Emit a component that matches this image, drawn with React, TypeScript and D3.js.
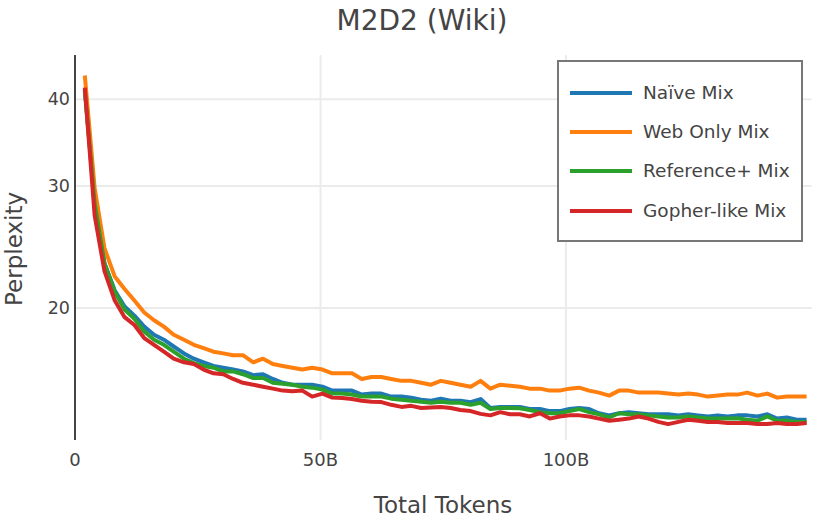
import React from "react";
import * as d3 from "d3";

const tokensB = [
  2.0, 4.0, 6.0, 8.1, 10.1, 12.1, 14.1, 16.1, 18.1, 20.1,
  22.2, 24.2, 26.2, 28.2, 30.2, 32.2, 34.2, 36.3, 38.3, 40.3,
  42.3, 44.3, 46.3, 48.3, 50.4, 52.4, 54.4, 56.4, 58.4, 60.4,
  62.4, 64.4, 66.5, 68.5, 70.5, 72.5, 74.5, 76.5, 78.5, 80.6,
  82.6, 84.6, 86.6, 88.6, 90.6, 92.6, 94.7, 96.7, 98.7, 100.7,
  102.7, 104.7, 106.7, 108.8, 110.8, 112.8, 114.8, 116.8, 118.8, 120.8,
  122.9, 124.9, 126.9, 128.9, 130.9, 132.9, 134.9, 136.9, 139.0, 141.0,
  143.0, 145.0, 147.0, 149.0,
];

const naiveMix = [
  41.4, 28.6, 23.2, 21.2, 20.1, 19.5, 18.8, 18.3, 18.0, 17.6,
  17.2, 16.9, 16.7, 16.5, 16.4, 16.3, 16.2, 16.0, 16.05, 15.8,
  15.6, 15.5, 15.5, 15.5, 15.4, 15.2, 15.2, 15.2, 15.0, 15.05,
  15.05, 14.9, 14.9, 14.85, 14.75, 14.7, 14.8, 14.7, 14.7, 14.63,
  14.78, 14.35, 14.4, 14.4, 14.4, 14.3, 14.3, 14.2, 14.2, 14.3,
  14.35, 14.3, 14.1, 14.0, 14.1, 14.15, 14.1, 14.05, 14.05, 14.05,
  14.0, 14.05, 14.0, 13.95, 14.0, 13.95, 14.0, 14.0, 13.95, 14.05,
  13.85, 13.9, 13.8, 13.8,
];

const webOnlyMix = [
  43.3, 29.8, 24.4, 22.2, 21.3, 20.5, 19.7, 19.2, 18.8, 18.3,
  18.0, 17.7, 17.5, 17.3, 17.2, 17.1, 17.1, 16.7, 16.9, 16.6,
  16.5, 16.4, 16.3, 16.4, 16.3, 16.1, 16.1, 16.1, 15.8, 15.9,
  15.9, 15.8, 15.7, 15.7, 15.6, 15.5, 15.7, 15.6, 15.5, 15.4,
  15.7, 15.3, 15.5, 15.45, 15.4, 15.3, 15.3, 15.2, 15.2, 15.3,
  15.35, 15.2, 15.1, 14.95, 15.2, 15.2, 15.1, 15.1, 15.1, 15.05,
  15.0, 15.05, 15.0, 14.9, 14.95, 15.0, 15.0, 15.1, 14.95, 15.05,
  14.85, 14.9, 14.9, 14.9,
];

const referencePlusMix = [
  41.2, 28.3, 23.2, 21.1, 19.9, 19.3, 18.5, 18.0, 17.7, 17.3,
  16.9, 16.65, 16.5, 16.4, 16.2, 16.2, 16.05, 15.85, 15.85, 15.6,
  15.55, 15.5, 15.4, 15.35, 15.25, 15.05, 15.05, 15.0, 14.9, 14.9,
  14.9, 14.8, 14.75, 14.7, 14.65, 14.6, 14.65, 14.6, 14.6, 14.5,
  14.6, 14.3, 14.35, 14.35, 14.33, 14.25, 14.15, 14.1, 14.1, 14.2,
  14.3, 14.15, 14.05, 13.9, 14.1, 14.05, 14.05, 14.0, 13.95, 13.9,
  13.9, 13.95, 13.9, 13.85, 13.85, 13.85, 13.87, 13.8, 13.75, 13.95,
  13.75, 13.75, 13.7, 13.7,
];

const gopherLikeMix = [
  41.6, 27.2, 22.6, 20.5, 19.4, 18.9, 18.1, 17.7, 17.3, 16.9,
  16.7, 16.6, 16.3, 16.1, 16.05, 15.8, 15.6, 15.5, 15.4, 15.3,
  15.2, 15.17, 15.2, 14.9, 15.05, 14.85, 14.83, 14.78, 14.7, 14.65,
  14.63, 14.5, 14.4, 14.45, 14.35, 14.37, 14.4, 14.35, 14.25, 14.2,
  14.07, 14.0, 14.15, 14.05, 14.05, 13.95, 14.1, 13.85, 13.95, 14.0,
  14.0, 13.95, 13.85, 13.75, 13.8, 13.85, 13.95, 13.85, 13.7, 13.6,
  13.7, 13.8, 13.75, 13.7, 13.7, 13.65, 13.65, 13.65, 13.6, 13.6,
  13.65, 13.6, 13.6, 13.65,
];

const seriesNames = ["Naïve Mix", "Web Only Mix", "Reference+ Mix", "Gopher-like Mix"];
const seriesValues = [naiveMix, webOnlyMix, referencePlusMix, gopherLikeMix];
const seriesColors = ["#1f77b4", "#ff7f0e", "#2ca02c", "#d62728"];

const xTicks = [0, 50, 100];
const xTickLabels = ["0", "50B", "100B"];
const yTicks = [20, 30, 40];

const W = 830;
const H = 520;
const left = 75;
const right = 811.5;
const top = 55;
const bottom = 440;
const font = "'DejaVu Sans', Verdana, sans-serif";
const textColor = "#444";

export default function App() {
  const x = d3.scaleLinear().domain([0, 150]).range([left, right]);
  const y = d3.scaleLog().domain([12.9, 46.35]).range([bottom, top]);
  const line = d3
    .line<number>()
    .x((_, i) => x(tokensB[i]))
    .y((d) => y(d));

  const legendX = 558;
  const legendY = 61;
  const legendRowY = [93, 132, 171, 211];

  return (
    <svg width={W} height={H} style={{ position: "absolute", left: 0, top: 0 }}>
      <rect width={W} height={H} fill="#fff" />
      <defs>
        <clipPath id="plot">
          <rect x={left} y={top} width={right - left} height={bottom - top} />
        </clipPath>
      </defs>
      {yTicks.map((t) => (
        <line key={"gy" + t} x1={left} x2={right} y1={y(t)} y2={y(t)} stroke="#ebebeb" strokeWidth={2} />
      ))}
      {xTicks.slice(1).map((t) => (
        <line key={"gx" + t} x1={x(t)} x2={x(t)} y1={top} y2={bottom} stroke="#ebebeb" strokeWidth={2} />
      ))}
      <g clipPath="url(#plot)">
        {seriesValues.map((vals, k) => (
          <path
            key={seriesNames[k]}
            d={line(vals) || ""}
            fill="none"
            stroke={seriesColors[k]}
            strokeWidth={4}
            strokeLinejoin="round"
          />
        ))}
      </g>
      <line x1={left} x2={left} y1={top} y2={bottom} stroke="#444" strokeWidth={2} />
      {yTicks.map((t) => (
        <text
          key={"ty" + t}
          x={left - 5}
          y={y(t)}
          dy="0.35em"
          textAnchor="end"
          fontFamily={font}
          fontSize={17.5}
          fill={textColor}
        >
          {t}
        </text>
      ))}
      {xTicks.map((t, i) => (
        <text
          key={"tx" + t}
          x={x(t)}
          y={466}
          textAnchor="middle"
          fontFamily={font}
          fontSize={18}
          fill={textColor}
        >
          {xTickLabels[i]}
        </text>
      ))}
      <text x={422} y={30} textAnchor="middle" fontFamily={font} fontSize={28} fill={textColor}>
        M2D2 (Wiki)
      </text>
      <text x={443} y={513} textAnchor="middle" fontFamily={font} fontSize={23} fill={textColor}>
        Total Tokens
      </text>
      <text
        transform={`translate(22, 249) rotate(-90)`}
        textAnchor="middle"
        fontFamily={font}
        fontSize={23}
        fill={textColor}
      >
        Perplexity
      </text>
      <rect x={legendX} y={legendY} width={244} height={180} fill="#fff" stroke="#777" strokeWidth={2} />
      {seriesNames.map((name, k) => (
        <g key={"lg" + name}>
          <line x1={570} x2={632} y1={legendRowY[k]} y2={legendRowY[k]} stroke={seriesColors[k]} strokeWidth={4} />
          <text x={643} y={legendRowY[k]} dy="0.35em" fontFamily={font} fontSize={18.5} fill={textColor}>
            {name}
          </text>
        </g>
      ))}
    </svg>
  );
}
